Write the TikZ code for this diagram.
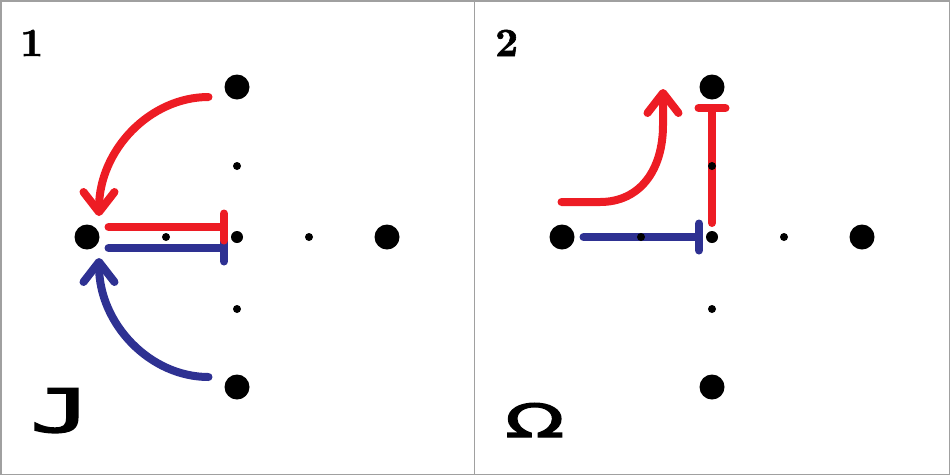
\documentclass[tikz,border=0pt]{standalone}
\usepackage{fontspec}
\newfontfamily\jfont{DejaVu Sans Mono}[FakeBold=2.5]
\newfontfamily\ofont{DejaVu Sans}[FakeBold=2.5]
\newfontfamily\numfont{lmroman10-bold.otf}[FakeBold=1.5]
\usetikzlibrary{arrows.meta}
\definecolor{myred}{HTML}{ED1C24}
\definecolor{myblue}{HTML}{2E3192}
\definecolor{frame}{HTML}{A0A0A0}
\tikzset{
  bigdot/.style={circle,fill=black,inner sep=0pt,minimum size=25pt},
  meddot/.style={circle,fill=black,inner sep=0pt,minimum size=12pt},
  smalldot/.style={circle,fill=black,inner sep=0pt,minimum size=8pt},
  conn/.style={line width=8pt,line cap=round,line join=round},
  redc/.style={conn,draw=myred},
  bluec/.style={conn,draw=myblue},
  arrowhd/.style={-{Straight Barb[length=20pt,width=31pt,round]}},
  tbar/.style={-{Bar[width=27pt,round]}},
  numlbl/.style={font=\numfont\fontsize{40}{42}\selectfont,inner sep=0pt,anchor=base west},
  symlbl/.style={inner sep=0pt,anchor=base west}
}
\begin{document}
\begin{tikzpicture}[x=1pt,y=-1pt]
\useasboundingbox (0,0) rectangle (950,475);
\draw[frame,line width=1.5pt] (0.75,0.75) rectangle (949.25,474.25);
\draw[frame,line width=1.5pt] (474.5,0) -- (474.5,475);
% ---------- panel 1 connectors ----------
\coordinate (rs) at (208.5,97);
\coordinate (re) at (99,216);
\coordinate (bs) at (208.5,377);
\coordinate (be) at (99,258);
\coordinate (rb1) at (108.5,227);
\coordinate (rb2) at (228,227);
\coordinate (bb1) at (108.5,248);
\coordinate (bb2) at (228,248);
\draw[redc,arrowhd] (rs) .. controls (150,97) and (99,150) .. (re);
\draw[bluec,arrowhd] (bs) .. controls (150,377) and (99,324) .. (be);
\draw[bluec,tbar] (bb1) -- (bb2);
\draw[redc,tbar] (rb1) -- (rb2);
% ---------- panel 1 dots ----------
\node[bigdot] (aL) at (87,237) {};
\node[bigdot] (aT) at (237,87) {};
\node[bigdot] (aB) at (237,387) {};
\node[bigdot] (aR) at (387,237) {};
\node[meddot] (aC) at (237,237) {};
\node[smalldot] (a1) at (166,237) {};
\node[smalldot] (a2) at (237,166) {};
\node[smalldot] (a3) at (309,237) {};
\node[smalldot] (a4) at (237,309) {};
\node[numlbl] (n1) at (20,56) {1};
\node[symlbl] (sj) at (30,432) {\scalebox{1.68}[1]{\jfont\fontsize{60}{60}\selectfont J}};
% ---------- panel 2 connectors ----------
\coordinate (cs) at (561.5,202);
\coordinate (ce) at (663,89);
\coordinate (vb1) at (712,223);
\coordinate (vb2) at (712,104);
\coordinate (hb1) at (583.5,237);
\coordinate (hb2) at (703,237);
\draw[redc,arrowhd] (cs) -- (600,202) .. controls (640,202) and (663,170) .. (663,125) -- (ce);
\draw[redc,tbar] (vb1) -- (vb2);
\draw[bluec,tbar] (hb1) -- (hb2);
% ---------- panel 2 dots ----------
\node[bigdot] (bL) at (562,237) {};
\node[bigdot] (bT) at (712,87) {};
\node[bigdot] (bB) at (712,387) {};
\node[bigdot] (bR) at (862,237) {};
\node[meddot] (bC) at (712,237) {};
\node[smalldot] (b1) at (641,237) {};
\node[smalldot] (b2) at (712,166) {};
\node[smalldot] (b3) at (784,237) {};
\node[smalldot] (b4) at (712,309) {};
\node[numlbl] (n2) at (495,56) {2};
\node[symlbl] (so) at (505,437) {\scalebox{1.68}[1]{\ofont\fontsize{46}{46}\selectfont Ω}};
\end{tikzpicture}
\end{document}
